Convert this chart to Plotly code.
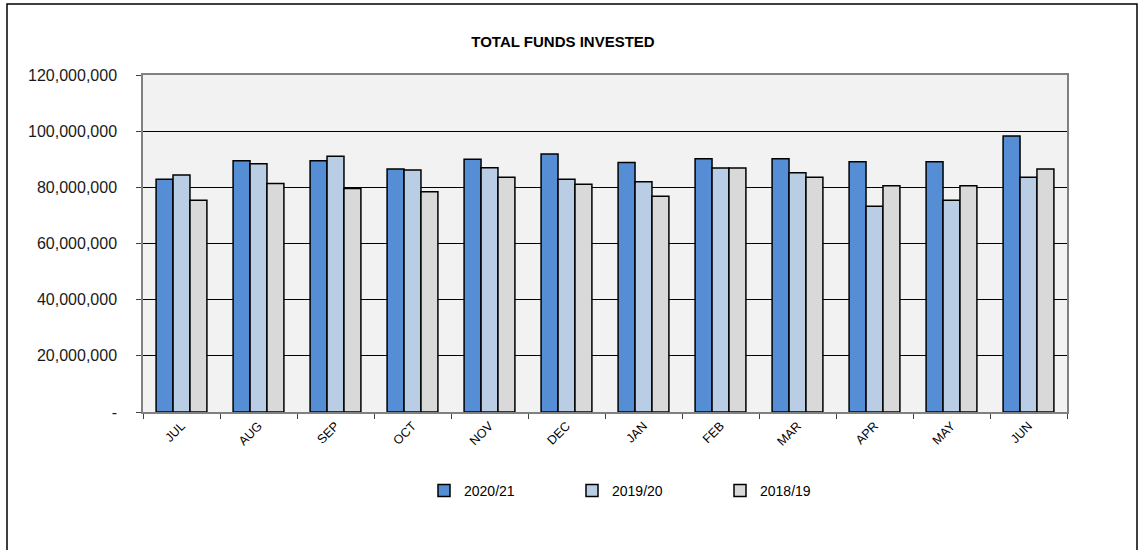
import plotly.graph_objects as go

months = ["JUL", "AUG", "SEP", "OCT", "NOV", "DEC", "JAN", "FEB", "MAR", "APR", "MAY", "JUN"]
fy2021 = [82900000, 89500000, 89500000, 86500000, 90000000, 91900000,
          88800000, 90200000, 90200000, 89100000, 89100000, 98300000]
fy1920 = [84400000, 88400000, 91100000, 86200000, 87000000, 82900000,
          82000000, 86900000, 85200000, 73300000, 75400000, 83600000]
fy1819 = [75400000, 81400000, 79600000, 78400000, 83600000, 81100000,
          76800000, 86900000, 83600000, 80600000, 80600000, 86500000]
series_names = ["2020/21", "2019/20", "2018/19"]
series_colors = ["#558ed5", "#b9cde5", "#d9d9d9"]
ytick_vals = [0, 20000000, 40000000, 60000000, 80000000, 100000000, 120000000]
ytick_text = ["-", "20,000,000", "40,000,000", "60,000,000", "80,000,000", "100,000,000", "120,000,000"]

fig = go.Figure()
for name, vals, col in zip(series_names, [fy2021, fy1920, fy1819], series_colors):
    fig.add_trace(go.Bar(x=months, y=vals, name=name,
                         marker=dict(color=col, line=dict(color="#000000", width=1.5))))

L, R, T, B = 143, 79, 75, 138
W, H = 1146, 550
pw, ph = W - L - R, H - T - B

def px_x(p):
    return (p - L) / pw

def px_y(p):
    return (H - B - p) / ph

fig.update_layout(
    width=W, height=H,
    margin=dict(l=L, r=R, t=T, b=B, pad=0),
    paper_bgcolor="white",
    plot_bgcolor="#f2f2f2",
    barmode="group",
    bargap=0.34,
    bargroupgap=0,
    font=dict(family="Liberation Sans, Arial", color="#000000"),
    title=dict(text="<b>TOTAL FUNDS INVESTED</b>", x=563 / W, xanchor="center",
               y=1 - 42 / H, yanchor="middle", xref="container", yref="container",
               font=dict(size=15, color="#000000")),
    legend=dict(orientation="h", x=px_x(424), xanchor="left", y=px_y(491), yanchor="middle",
                font=dict(size=14), entrywidth=103, entrywidthmode="pixels",
                itemwidth=30, bgcolor="rgba(0,0,0,0)"),
    showlegend=True,
    xaxis=dict(tickangle=-45, tickfont=dict(size=12.5), ticks="outside", ticklen=5,
               tickson="boundaries", tickcolor="#404040",
               showline=True, linecolor="#808080", linewidth=1.5, mirror=True,
               showgrid=False),
    yaxis=dict(range=[0, 120000000], tickvals=ytick_vals, ticktext=ytick_text,
               tickfont=dict(size=16, color="#1a1a1a"), ticks="outside", ticklen=5,
               ticklabelstandoff=16, tickcolor="#404040",
               showline=True, linecolor="#808080", linewidth=1.5, mirror=True,
               showgrid=True, gridcolor="#000000", gridwidth=1, zeroline=False),
    shapes=[dict(type="rect", xref="paper", yref="paper",
                 x0=px_x(7), x1=px_x(1137), y0=px_y(560), y1=px_y(4),
                 line=dict(color="#000000", width=1.5), fillcolor="rgba(0,0,0,0)",
                 layer="below")],
)

fig.write_html("out.html")
